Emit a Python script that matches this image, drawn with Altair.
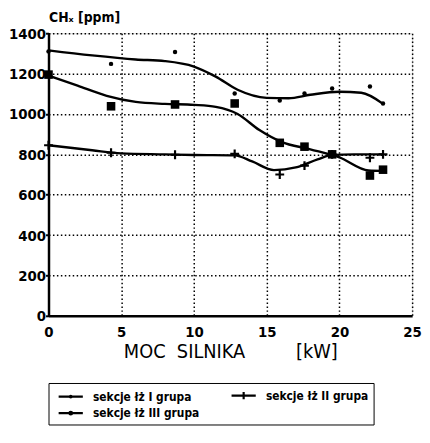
import altair as alt
import pandas as pd

# measured points (x = engine power kW, y = CHx ppm)
x_pts = [0, 4.3, 8.7, 12.8, 15.9, 17.6, 19.5, 22.1, 23.0]
g1_pts = [1310, 1248, 1307, 1101, 1067, 1101, 1126, 1136, 1052]
g2_pts = [845, 808, 798, 802, 700, 744, 800, 783, 800]
g3_pts = [1195, 1038, 1047, 1052, 857, 838, 800, 695, 724]

# fitted curves
g1_cx = [0, 3, 6, 8, 10, 11.5, 13, 15, 16.5, 18, 20, 21.5, 23]
g1_cy = [1315, 1290, 1270, 1262, 1235, 1185, 1120, 1080, 1078, 1095, 1110, 1105, 1050]
g2_cx = [0, 3, 5, 8, 10, 12.8, 14, 15.5, 17, 18.5, 19.5, 21, 23]
g2_cy = [845, 820, 805, 800, 797, 795, 765, 722, 735, 775, 797, 800, 800]
g3_cx = [0, 2, 4, 6, 8, 10, 11.5, 13, 14.5, 16, 18, 20, 22, 23]
g3_cy = [1190, 1140, 1090, 1060, 1050, 1045, 1035, 1000, 920, 862, 825, 785, 720, 718]

labels = ["sekcje łż I grupa", "sekcje łż II grupa", "sekcje łż III grupa"]
x_ticks = [0, 5, 10, 15, 20, 25]
y_ticks = [0, 200, 400, 600, 800, 1000, 1200, 1400]

FONT = "DejaVu Sans Condensed, DejaVu Sans"

pts = pd.DataFrame(
    [{"x": x, "y": y, "s": labels[0]} for x, y in zip(x_pts, g1_pts)]
    + [{"x": x, "y": y, "s": labels[1]} for x, y in zip(x_pts, g2_pts)]
    + [{"x": x, "y": y, "s": labels[2]} for x, y in zip(x_pts, g3_pts)]
)
curves = pd.DataFrame(
    [{"x": x, "y": y, "s": labels[0]} for x, y in zip(g1_cx, g1_cy)]
    + [{"x": x, "y": y, "s": labels[1]} for x, y in zip(g2_cx, g2_cy)]
    + [{"x": x, "y": y, "s": labels[2]} for x, y in zip(g3_cx, g3_cy)]
)

xs = alt.Scale(domain=[0, 25], nice=False)
ys = alt.Scale(domain=[0, 1400], nice=False)

NB = "\u00a0"
xenc = alt.X(
    "x:Q", scale=xs,
    axis=alt.Axis(
        values=x_ticks, title="MOC" + NB * 2 + "SILNIKA" + NB * 9 + "[kW]",
        grid=True, gridDash=[1.5, 2.5], gridColor="black", gridWidth=1.5, gridOpacity=1,
        domainWidth=2.5, domainColor="black", ticks=False,
        labelFont=FONT, labelFontSize=15, labelFontWeight="bold", labelColor="black",
        labelPadding=9, titleFont=FONT, titleFontSize=20, titleFontWeight="normal", titleColor="black",
        titlePadding=2, labelFlush=False,
    ),
)
yenc = alt.Y(
    "y:Q", scale=ys,
    axis=alt.Axis(
        values=y_ticks, format="d", title="CHₓ [ppm]",
        grid=True, gridDash=[1.5, 2.5], gridColor="black", gridWidth=1.5, gridOpacity=1,
        domainWidth=2.5, domainColor="black", tickColor="black", tickSize=3, tickWidth=2,
        labelFont=FONT, labelFontSize=15, labelFontWeight="bold", labelColor="black",
        labelPadding=0, titleFont=FONT, titleFontSize=14, titleFontWeight="bold", titleColor="black",
        titleAngle=0, titleAlign="left", titleBaseline="alphabetic", titleX=0, titleY=-12,
    ),
)

lines = alt.Chart(curves).mark_line(
    interpolate="monotone", color="black", strokeWidth=2.4
).encode(x=xenc, y=yenc, detail="s:N")

p1 = alt.Chart(pts).transform_filter(alt.datum.s == labels[0]).mark_circle(
    color="black", size=20, opacity=1
).encode(x="x:Q", y="y:Q")
p2 = alt.Chart(pts).transform_filter(alt.datum.s == labels[1]).mark_point(
    shape="M-1,0H1M0,-1V1", stroke="black", strokeWidth=2.2, size=80, opacity=1, filled=False
).encode(x="x:Q", y="y:Q")
p3 = alt.Chart(pts).transform_filter(alt.datum.s == labels[2]).mark_square(
    color="black", size=75, opacity=1
).encode(x="x:Q", y="y:Q")

# legend symbols: line segment with the series marker in the middle
legend_paths = [
    "M-2,0H2M-0.14,0A0.14,0.14 0 1,0 0.14,0A0.14,0.14 0 1,0 -0.14,0",
    "M-2,0H2M0,-0.6V0.6",
    "M-2,0H2M-0.22,0A0.22,0.22 0 1,0 0.22,0A0.22,0.22 0 1,0 -0.22,0M-0.08,0A0.08,0.08 0 1,0 0.08,0A0.08,0.08 0 1,0 -0.08,0",
]
label_expr = "datum.index == 1 ? datum.label + '" + NB * 15 + "' : datum.label"
leg = alt.Chart(pts).mark_point(
    opacity=0, stroke="black", strokeWidth=2, filled=False
).encode(
    x="x:Q", y="y:Q",
    shape=alt.Shape(
        "s:N", scale=alt.Scale(domain=labels, range=legend_paths),
        legend=alt.Legend(
            title=None, orient="none", legendX=0, legendY=354, columns=2,
            direction="horizontal",
            symbolSize=150, symbolStrokeColor="black", symbolStrokeWidth=2.2,
            symbolOpacity=1, symbolOffset=10,
            labelFont=FONT, labelFontSize=12, labelFontWeight="bold", labelColor="black",
            labelExpr=label_expr,
            padding=5, columnPadding=27, rowPadding=2, labelOffset=15, labelLimit=400,
            strokeColor="black",
        ),
    ),
)

chart = alt.layer(lines, p1, p2, p3, leg).properties(
    width=368, height=286,
    autosize=alt.AutoSizeParams(type="none"),
    padding={"left": 41, "top": 23, "right": 10, "bottom": 110},
).configure_view(stroke="black", strokeWidth=2.5).configure_legend(
    strokeColor="black", strokeWidth=2
).configure(background="white")

chart.save("out.html", embed_options={"renderer": "svg", "actions": False})
